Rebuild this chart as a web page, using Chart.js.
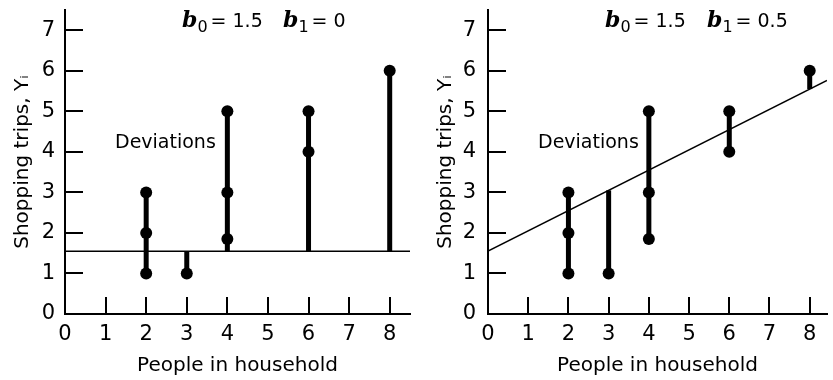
<!DOCTYPE html>
<html>
<head>
<meta charset="utf-8">
<script src="https://cdn.jsdelivr.net/npm/chart.js@4.4.1/dist/chart.umd.min.js"></script>
<style>
  body { margin: 0; background: #fff; }
  #wrap { position: relative; width: 833px; height: 380px; }
  .box { position: absolute; top: 0; height: 380px; }
  #left { left: 0; width: 416px; }
  #right { left: 416px; width: 417px; }
</style>
</head>
<body>
<div id="wrap">
  <div class="box" id="left"><canvas id="chartLeft"></canvas></div>
  <div class="box" id="right"><canvas id="chartRight"></canvas></div>
</div>
<script>
// observations: people in household (x) and shopping trips (y)
const people = [2, 2, 2, 3, 4, 4, 4, 6, 6, 8];
const trips = [1, 2, 3, 1, 1.85, 3, 5, 4, 5, 6];

// the two candidate lines (labels as printed, intercept as drawn)
const b0Labels = ["1.5", "1.5"];
const b1Labels = ["0", "0.5"];
const intercepts = [1.55, 1.55];
const slopes = [0, 0.5];

const xTicks = [0, 1, 2, 3, 4, 5, 6, 7, 8];
const yTicks = [0, 1, 2, 3, 4, 5, 6, 7];

const FONT = "'DejaVu Sans', sans-serif";

// text drawn on top: the b0 / b1 equation and the "Deviations" note
const notesPlugin = {
    id: "notes",
    afterDraw(chart, args, opts) {
        const ctx = chart.ctx;
        ctx.save();
        ctx.fillStyle = "#000";
        ctx.textBaseline = "alphabetic";
        ctx.textAlign = "left";

        function coef(x, sub, value) {
            ctx.font = "italic bold 22px 'DejaVu Serif', serif";
            ctx.fillText("b", x, 27);
            x += ctx.measureText("b").width;
            ctx.font = "16px " + FONT;
            ctx.fillText(sub, x, 32);
            x += ctx.measureText(sub).width + 3;
            ctx.font = "19px " + FONT;
            ctx.fillText("= " + value, x, 27);
        }
        coef(opts.b0X, "0", opts.b0);
        coef(opts.b1X, "1", opts.b1);

        ctx.font = "19px " + FONT;
        ctx.textBaseline = "middle";
        ctx.fillText("Deviations", opts.devX, 143);
        ctx.restore();
    }
};

function buildChart(canvasId, idx, opt) {
    const b0 = intercepts[idx];
    const b1 = slopes[idx];

    // vertical deviation bars: from the line to the farthest point at each x
    const stems = [];
    const xs = [...new Set(people)];
    xs.forEach(function (x) {
        const ys = trips.filter((y, i) => people[i] === x);
        const fit = b0 + b1 * x;
        const lo = Math.min(fit, ...ys);
        const hi = Math.max(fit, ...ys);
        stems.push({
            type: "line",
            data: [{ x: x, y: lo }, { x: x, y: hi }],
            borderColor: "#000",
            borderWidth: 5,
            pointRadius: 0
        });
    });

    const datasets = [
        {
            type: "scatter",
            data: people.map((x, i) => ({ x: x, y: trips[i] })),
            backgroundColor: "#000",
            borderColor: "#000",
            pointRadius: 6,
            pointBorderWidth: 0
        },
        ...stems,
        {
            type: "line",
            data: [{ x: 0, y: b0 }, { x: opt.xMax, y: b0 + b1 * opt.xMax }],
            borderColor: "#000",
            borderWidth: 1.5,
            pointRadius: 0
        }
    ];

    return new Chart(document.getElementById(canvasId), {
        type: "scatter",
        data: { datasets: datasets },
        plugins: [notesPlugin],
        options: {
            responsive: true,
            maintainAspectRatio: false,
            animation: false,
            layout: { padding: { top: 10, right: opt.padRight, left: 0, bottom: 0 } },
            plugins: {
                legend: { display: false },
                tooltip: { enabled: false },
                notes: {
                    b0: b0Labels[idx], b1: b1Labels[idx],
                    b0X: opt.b0X, b1X: opt.b1X, devX: opt.devX
                }
            },
            scales: {
                x: {
                    type: "linear",
                    min: 0,
                    max: opt.xMax,
                    afterBuildTicks: s => { s.ticks = xTicks.map(v => ({ value: v })); },
                    afterFit: s => {
                        s.height = 66;
                        s.paddingLeft = 0;
                        s.paddingRight = 0;
                    },
                    grid: { drawOnChartArea: false, tickLength: -17, color: "#000", lineWidth: 2 },
                    border: { display: true, color: "#000", width: 2 },
                    ticks: { color: "#000", padding: 25, font: { family: FONT, size: 21 } },
                    title: {
                        display: true,
                        text: "People in household",
                        color: "#000",
                        padding: { top: 0, bottom: 2 },
                        font: { family: FONT, size: 20 }
                    }
                },
                y: {
                    type: "linear",
                    min: 0,
                    max: 7.5,
                    afterBuildTicks: s => { s.ticks = yTicks.map(v => ({ value: v })); },
                    afterFit: s => {
                        s.width = opt.yWidth;
                        s.paddingTop = 0;
                        s.paddingBottom = 0;
                    },
                    grid: { drawOnChartArea: false, tickLength: -18, color: "#000", lineWidth: 2 },
                    border: { display: true, color: "#000", width: 2 },
                    ticks: { color: "#000", padding: opt.yPad, font: { family: FONT, size: 21 } },
                    title: {
                        display: true,
                        text: "Shopping trips, Yᵢ",
                        color: "#000",
                        padding: { top: opt.yTitlePad, bottom: 0 },
                        font: { family: FONT, size: 20 }
                    }
                }
            }
        }
    });
}

buildChart("chartLeft", 0, {
    xMax: 8.5, padRight: 3, yWidth: 65, yPad: 28, yTitlePad: 11,
    b0X: 182, b1X: 283, devX: 115
});
buildChart("chartRight", 1, {
    xMax: 8.43, padRight: 0, yWidth: 72, yPad: 30, yTitlePad: 18,
    b0X: 189, b1X: 291, devX: 122
});
</script>
</body>
</html>
